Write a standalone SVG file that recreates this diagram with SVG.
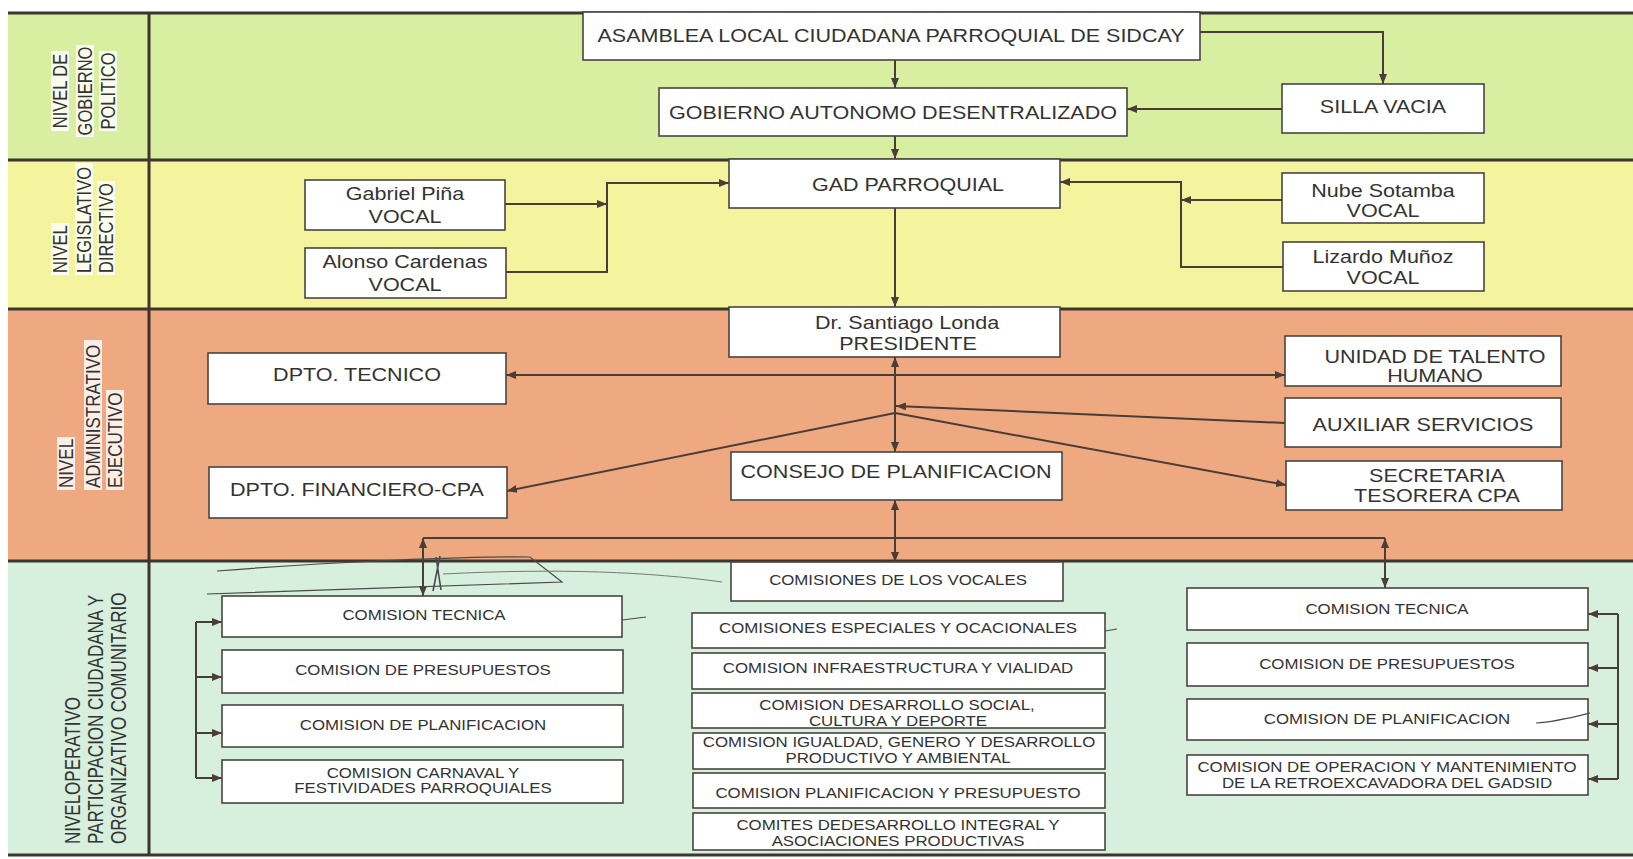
<svg xmlns="http://www.w3.org/2000/svg" width="1633" height="859" viewBox="0 0 1633 859">
<defs>
<style>
.box{fill:#fff;stroke:#4a4440;stroke-width:1.6}
.t{font-family:"Liberation Sans",Arial,Helvetica,sans-serif;fill:#333;text-anchor:middle}
.b{font-size:17.5px}
.s{font-size:14.5px}
.lab{font-family:"Liberation Sans",Arial,Helvetica,sans-serif;fill:#333;font-size:16.5px}
.frame{stroke:#3d3530;stroke-width:3;fill:none}
.c{stroke:#4a3c36;stroke-width:2;fill:none}
.hl{fill:#fff;opacity:0.8}
.scr{stroke:#4a4a4a;stroke-width:1.2;fill:none}
</style>
<marker id="ah" viewBox="0 0 10 8" refX="10" refY="4" markerWidth="10" markerHeight="8" markerUnits="userSpaceOnUse" orient="auto-start-reverse">
<path d="M0,0 L10,4 L0,8 z" fill="#4a3c36"/>
</marker>
</defs>

<g id="bands">
<rect x="8" y="13" width="1625" height="147" fill="#d8eea0"/>
<rect x="8" y="160" width="1625" height="149" fill="#f4f49e"/>
<rect x="8" y="309" width="1625" height="252" fill="#eea980"/>
<rect x="8" y="561" width="1625" height="294" fill="#d7efdd"/>
<path class="frame" d="M8 13 H1633 M8 160 H1633 M8 309 H1633 M8 561 H1633 M8 855 H1633 M149 13 V855"/>
</g>

<g id="level-labels">
<rect class="hl" x="51" y="51" width="18" height="80"/>
<rect class="hl" x="76" y="45" width="18" height="92"/>
<rect class="hl" x="99" y="51" width="18" height="80"/>
<text class="lab" text-anchor="middle" transform="translate(67 91) scale(1.25 1) rotate(-90)">NIVEL DE</text>
<text class="lab" text-anchor="middle" transform="translate(92 91) scale(1.25 1) rotate(-90)">GOBIERNO</text>
<text class="lab" text-anchor="middle" transform="translate(115 91) scale(1.25 1) rotate(-90)">POLITICO</text>

<rect class="hl" x="51" y="223" width="18" height="52"/>
<rect class="hl" x="75" y="163" width="18" height="112"/>
<rect class="hl" x="97" y="181" width="18" height="94"/>
<text class="lab" transform="translate(67 273) scale(1.25 1) rotate(-90)">NIVEL</text>
<text class="lab" transform="translate(91 273) scale(1.25 1) rotate(-90)">LEGISLATIVO</text>
<text class="lab" transform="translate(113 273) scale(1.25 1) rotate(-90)">DIRECTIVO</text>

<rect class="hl" x="57" y="437" width="18" height="53"/>
<rect class="hl" x="84" y="340" width="18" height="150"/>
<rect class="hl" x="106" y="390" width="18" height="100"/>
<text class="lab" style="font-size:17px" transform="translate(73 488) scale(1.22 1) rotate(-90)">NIVEL</text>
<text class="lab" style="font-size:17px" transform="translate(100 488) scale(1.22 1) rotate(-90)">ADMINISTRATIVO</text>
<text class="lab" style="font-size:17px" transform="translate(122 488) scale(1.22 1) rotate(-90)">EJECUTIVO</text>

<text class="lab" style="font-size:17px" transform="translate(80 844) scale(1.25 1) rotate(-90)">NIVELOPERATIVO</text>
<text class="lab" style="font-size:17px" transform="translate(103 844) scale(1.25 1) rotate(-90)">PARTICIPACION CIUDADANA Y</text>
<text class="lab" style="font-size:17px" transform="translate(126 844) scale(1.25 1) rotate(-90)">ORGANIZATIVO COMUNITARIO</text>
</g>

<g id="connectors">
<path class="c" d="M895 60 V88" marker-end="url(#ah)"/>
<path class="c" d="M1200 32 H1383 V84" marker-end="url(#ah)"/>
<path class="c" d="M1282 109 H1127" marker-end="url(#ah)"/>
<path class="c" d="M895 136 V159" marker-end="url(#ah)"/>
<path class="c" d="M505 204 H607" marker-end="url(#ah)"/>
<path class="c" d="M506 272 H607 V183 H729" marker-end="url(#ah)"/>
<path class="c" d="M1282 200 H1181" marker-end="url(#ah)"/>
<path class="c" d="M1283 267 H1181 V182 H1060" marker-end="url(#ah)"/>
<path class="c" d="M895 208 V307" marker-end="url(#ah)"/>
<path class="c" d="M895 357 V452" marker-start="url(#ah)" marker-end="url(#ah)"/>
<path class="c" d="M506 375 H1285" marker-start="url(#ah)" marker-end="url(#ah)"/>
<path class="c" d="M1285 423 L896 406" marker-end="url(#ah)"/>
<path class="c" d="M895 413 L507 491" marker-end="url(#ah)"/>
<path class="c" d="M895 413 L1286 485" marker-end="url(#ah)"/>
<path class="c" d="M895 500 V562" marker-start="url(#ah)" marker-end="url(#ah)"/>
<path class="c" d="M423 538 H1385"/>
<path class="c" d="M423 538 V596" marker-start="url(#ah)" marker-end="url(#ah)"/>
<path class="c" d="M1385 538 V588" marker-start="url(#ah)" marker-end="url(#ah)"/>
<path class="c" d="M196 622 V778"/>
<path class="c" d="M196 622 H222" marker-end="url(#ah)"/>
<path class="c" d="M196 677 H222" marker-end="url(#ah)"/>
<path class="c" d="M196 733 H222" marker-end="url(#ah)"/>
<path class="c" d="M196 778 H222" marker-end="url(#ah)"/>
<path class="c" d="M1618 614 V779"/>
<path class="c" d="M1618 614 H1588" marker-end="url(#ah)"/>
<path class="c" d="M1618 668 H1588" marker-end="url(#ah)"/>
<path class="c" d="M1618 724 H1588" marker-end="url(#ah)"/>
<path class="c" d="M1618 779 H1588" marker-end="url(#ah)"/>
</g>

<g id="n-asamblea"><rect class="box" x="583" y="12" width="617" height="48"/>
<text class="t b" transform="translate(891 42) scale(1.23 1)">ASAMBLEA LOCAL CIUDADANA PARROQUIAL DE SIDCAY</text></g>
<g id="n-gobierno"><rect class="box" x="659" y="88" width="468" height="48"/>
<text class="t b" transform="translate(893 119) scale(1.23 1)">GOBIERNO AUTONOMO DESENTRALIZADO</text></g>
<g id="n-silla"><rect class="box" x="1282" y="84" width="202" height="49"/>
<text class="t b" transform="translate(1383 113) scale(1.23 1)">SILLA VACIA</text></g>

<g id="n-gad"><rect class="box" x="729" y="159" width="331" height="49"/>
<text class="t b" transform="translate(908 191) scale(1.23 1)">GAD PARROQUIAL</text></g>
<g id="n-gabriel"><rect class="box" x="305" y="180" width="200" height="50"/>
<text class="t b" transform="translate(405 200) scale(1.23 1)">Gabriel Piña</text>
<text class="t b" transform="translate(405 223) scale(1.23 1)">VOCAL</text></g>
<g id="n-alonso"><rect class="box" x="305" y="248" width="201" height="50"/>
<text class="t b" transform="translate(405 268) scale(1.23 1)">Alonso Cardenas</text>
<text class="t b" transform="translate(405 291) scale(1.23 1)">VOCAL</text></g>
<g id="n-nube"><rect class="box" x="1282" y="173" width="202" height="50"/>
<text class="t b" transform="translate(1383 197) scale(1.23 1)">Nube Sotamba</text>
<text class="t b" transform="translate(1383 217) scale(1.23 1)">VOCAL</text></g>
<g id="n-lizardo"><rect class="box" x="1283" y="242" width="201" height="49"/>
<text class="t b" transform="translate(1383 263) scale(1.23 1)">Lizardo Muñoz</text>
<text class="t b" transform="translate(1383 284) scale(1.23 1)">VOCAL</text></g>

<g id="n-presidente"><rect class="box" x="729" y="307" width="331" height="50"/>
<text class="t b" transform="translate(907 329) scale(1.23 1)">Dr. Santiago Londa</text>
<text class="t b" transform="translate(908 350) scale(1.23 1)">PRESIDENTE</text></g>
<g id="n-consejo"><rect class="box" x="731" y="452" width="331" height="48"/>
<text class="t b" transform="translate(896 478) scale(1.23 1)">CONSEJO DE PLANIFICACION</text></g>
<g id="n-dpto-tecnico"><rect class="box" x="208" y="353" width="298" height="51"/>
<text class="t b" transform="translate(357 381) scale(1.23 1)">DPTO. TECNICO</text></g>
<g id="n-dpto-financiero"><rect class="box" x="209" y="467" width="298" height="51"/>
<text class="t b" transform="translate(357 496) scale(1.23 1)">DPTO. FINANCIERO-CPA</text></g>
<g id="n-unidad"><rect class="box" x="1285" y="336" width="276" height="50"/>
<text class="t b" transform="translate(1435 363) scale(1.23 1)">UNIDAD DE TALENTO</text>
<text class="t b" transform="translate(1435 382) scale(1.23 1)">HUMANO</text></g>
<g id="n-auxiliar"><rect class="box" x="1285" y="398" width="276" height="49"/>
<text class="t b" transform="translate(1423 431) scale(1.23 1)">AUXILIAR SERVICIOS</text></g>
<g id="n-secretaria"><rect class="box" x="1286" y="461" width="276" height="49"/>
<text class="t b" transform="translate(1437 482) scale(1.23 1)">SECRETARIA</text>
<text class="t b" transform="translate(1437 502) scale(1.23 1)">TESORERA CPA</text></g>

<g id="n-vocales"><rect class="box" x="731" y="562" width="332" height="39"/>
<text class="t s" transform="translate(898 585) scale(1.16 1)">COMISIONES DE LOS VOCALES</text></g>
<g id="n-especiales"><rect class="box" x="692" y="613" width="413" height="35"/>
<text class="t s" transform="translate(898 633) scale(1.16 1)">COMISIONES ESPECIALES Y OCACIONALES</text></g>
<g id="n-infraestructura"><rect class="box" x="692" y="653" width="413" height="36"/>
<text class="t s" transform="translate(898 673) scale(1.16 1)">COMISION INFRAESTRUCTURA Y VIALIDAD</text></g>
<g id="n-desarrollo-social"><rect class="box" x="692" y="693" width="413" height="35"/>
<text class="t s" transform="translate(897 710) scale(1.16 1)">COMISION DESARROLLO SOCIAL,</text>
<text class="t s" transform="translate(898 726) scale(1.16 1)">CULTURA Y DEPORTE</text></g>
<g id="n-igualdad"><rect class="box" x="693" y="733" width="412" height="36"/>
<text class="t s" transform="translate(899 747) scale(1.16 1)">COMISION IGUALDAD, GENERO Y DESARROLLO</text>
<text class="t s" transform="translate(898 763) scale(1.16 1)">PRODUCTIVO Y AMBIENTAL</text></g>
<g id="n-planif-presupuesto"><rect class="box" x="693" y="773" width="412" height="35"/>
<text class="t s" transform="translate(898 798) scale(1.16 1)">COMISION PLANIFICACION Y PRESUPUESTO</text></g>
<g id="n-comites"><rect class="box" x="693" y="813" width="412" height="37"/>
<text class="t s" transform="translate(898 830) scale(1.16 1)">COMITES DEDESARROLLO INTEGRAL Y</text>
<text class="t s" transform="translate(898 846) scale(1.16 1)">ASOCIACIONES PRODUCTIVAS</text></g>

<g id="n-left-tecnica"><rect class="box" x="222" y="596" width="400" height="41"/>
<text class="t s" transform="translate(424 620) scale(1.16 1)">COMISION TECNICA</text></g>
<g id="n-left-presupuestos"><rect class="box" x="222" y="650" width="401" height="43"/>
<text class="t s" transform="translate(423 675) scale(1.16 1)">COMISION DE PRESUPUESTOS</text></g>
<g id="n-left-planificacion"><rect class="box" x="222" y="705" width="401" height="42"/>
<text class="t s" transform="translate(423 730) scale(1.16 1)">COMISION DE PLANIFICACION</text></g>
<g id="n-left-carnaval"><rect class="box" x="222" y="760" width="401" height="43"/>
<text class="t s" transform="translate(423 778) scale(1.16 1)">COMISION CARNAVAL Y</text>
<text class="t s" transform="translate(423 793) scale(1.16 1)">FESTIVIDADES PARROQUIALES</text></g>

<g id="n-right-tecnica"><rect class="box" x="1187" y="588" width="401" height="42"/>
<text class="t s" transform="translate(1387 614) scale(1.16 1)">COMISION TECNICA</text></g>
<g id="n-right-presupuestos"><rect class="box" x="1187" y="643" width="401" height="43"/>
<text class="t s" transform="translate(1387 669) scale(1.16 1)">COMISION DE PRESUPUESTOS</text></g>
<g id="n-right-planificacion"><rect class="box" x="1187" y="699" width="401" height="41"/>
<text class="t s" transform="translate(1387 724) scale(1.16 1)">COMISION DE PLANIFICACION</text></g>
<g id="n-right-operacion"><rect class="box" x="1187" y="755" width="401" height="40"/>
<text class="t s" transform="translate(1387 772) scale(1.16 1)">COMISION DE OPERACION Y MANTENIMIENTO</text>
<text class="t s" transform="translate(1387 788) scale(1.16 1)">DE LA RETROEXCAVADORA DEL GADSID</text></g>

<g id="pen-marks">
<path class="scr" d="M217 571 C330 562 470 556 530 557 L562 582 C450 586 320 590 207 594"/>
<path class="scr" style="stroke:#777;stroke-width:1" d="M443 574 C560 568 650 572 722 582"/>
<path class="scr" style="stroke-width:1.6" d="M440 556 L433 591 M436 557 L441 590"/>
<path class="scr" d="M622 620 L646 617"/>
<path class="scr" d="M1105 631 L1117 629"/>
<path class="scr" d="M1536 723 C1555 722 1570 718 1590 713"/>
</g>
</svg>
